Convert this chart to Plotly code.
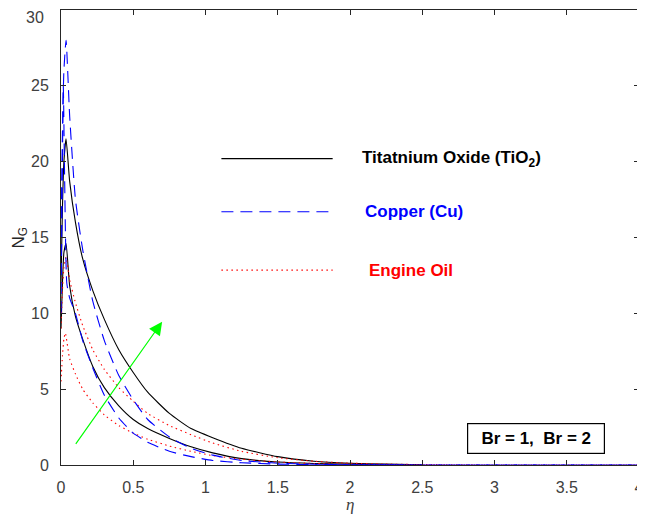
import plotly.graph_objects as go

# eta vs N_G, two curves (Br = 1, Br = 2) for each fluid
x_tio2_br2 = [0, 0.01, 0.02, 0.035, 0.06, 0.1, 0.15, 0.22, 0.3, 0.4, 0.5, 0.6, 0.75, 0.9, 1.05, 1.25, 1.5, 1.75, 2.0, 2.25, 2.5]
y_tio2_br2 = [12, 17, 20, 21.5, 18.7, 16.0, 13.6, 11.5, 9.6, 7.6, 6.1, 4.8, 3.4, 2.4, 1.8, 1.1, 0.55, 0.25, 0.12, 0.06, 0.02]

x_tio2_br1 = [0, 0.01, 0.02, 0.035, 0.06, 0.1, 0.15, 0.22, 0.3, 0.4, 0.5, 0.6, 0.75, 0.9, 1.05, 1.25, 1.5, 1.75, 2.0, 2.25, 2.5]
y_tio2_br1 = [9, 12, 14, 14.6, 11.8, 9.8, 8.3, 6.5, 5.1, 3.9, 3.0, 2.4, 1.75, 1.2, 0.8, 0.42, 0.2, 0.1, 0.05, 0.02, 0.01]

x_cu_br2 = [0, 0.01, 0.02, 0.035, 0.06, 0.1, 0.15, 0.22, 0.3, 0.4, 0.5, 0.6, 0.75, 0.9, 1.05, 1.25, 1.5, 1.75, 2.0, 2.5, 3.0, 4.0]
y_cu_br2 = [15, 22, 26, 28, 23, 17.5, 14.2, 10.8, 8.2, 5.9, 4.3, 3.0, 1.85, 1.1, 0.65, 0.3, 0.12, 0.05, 0.02, 0, 0, 0]

x_cu_br1 = [0, 0.008, 0.016, 0.025, 0.04, 0.06, 0.1, 0.15, 0.22, 0.3, 0.4, 0.5, 0.6, 0.75, 0.9, 1.05, 1.25, 1.5, 1.75, 2.0, 3.0, 4.0]
y_cu_br1 = [10, 18, 25, 19, 12, 11, 10.0, 8.2, 6.4, 4.6, 3.1, 2.1, 1.5, 0.9, 0.55, 0.3, 0.15, 0.06, 0.02, 0.01, 0, 0]

x_oil_br2 = [0, 0.01, 0.02, 0.035, 0.06, 0.1, 0.15, 0.22, 0.3, 0.4, 0.5, 0.6, 0.75, 0.9, 1.05, 1.25, 1.5, 1.75, 2.0, 2.25, 2.5, 3.0, 4.0]
y_oil_br2 = [9, 11.5, 13, 13.7, 12.2, 10.7, 9.2, 7.6, 6.3, 5.1, 4.2, 3.4, 2.6, 2.0, 1.45, 0.9, 0.48, 0.25, 0.12, 0.06, 0.03, 0, 0]

x_oil_br1 = [0, 0.01, 0.02, 0.03, 0.06, 0.1, 0.15, 0.22, 0.3, 0.4, 0.5, 0.6, 0.75, 0.9, 1.05, 1.25, 1.5, 1.75, 2.0, 2.5, 3.0, 4.0]
y_oil_br1 = [5.5, 7.2, 8.3, 8.7, 7.0, 6.0, 5.0, 4.1, 3.3, 2.6, 2.1, 1.7, 1.25, 0.9, 0.62, 0.38, 0.2, 0.1, 0.05, 0.01, 0, 0]

x_ticks = [0, 0.5, 1, 1.5, 2, 2.5, 3, 3.5, 4]
x_tick_text = ['0', '0.5', '1', '1.5', '2', '2.5', '3', '3.5', '4']
y_ticks = [0, 5, 10, 15, 20, 25, 30]
y_tick_text = ['0', '5', '10', '15', '20', '25', '']   # '30' is drawn as an annotation below

BLACK = '#000000'
BLUE = '#0000ff'
RED = '#ff0000'
DASH = '12px,7px'
DOT = '1.5px,3.5px'
FONT = 'Liberation Sans, Arial'
TICK_COLOR = '#404040'

fig = go.Figure()

curves = [
    (x_tio2_br1, y_tio2_br1, BLACK, 'solid'),
    (x_tio2_br2, y_tio2_br2, BLACK, 'solid'),
    (x_oil_br1, y_oil_br1, RED, DOT),
    (x_oil_br2, y_oil_br2, RED, DOT),
    (x_cu_br1, y_cu_br1, BLUE, DASH),
    (x_cu_br2, y_cu_br2, BLUE, DASH),
]
for xs, ys, col, dash in curves:
    fig.add_trace(go.Scatter(x=xs, y=ys, mode='lines',
                             line=dict(color=col, width=1.1, dash=dash, shape='spline', smoothing=0.5),
                             showlegend=False))

# hand-made legend in the middle of the axes
legend_rows = [
    ('Titatnium Oxide (TiO<sub>2</sub>)', BLACK, 'solid', 20.2, 2.07),
    ('Copper (Cu)', BLUE, DASH, 16.7, 2.09),
    ('Engine Oil', RED, DOT, 12.85, 2.12),
]
for label, col, dash, yy, xt in legend_rows:
    fig.add_shape(type='line', x0=1.11, x1=1.88, y0=yy, y1=yy, xref='x', yref='y',
                  line=dict(color=col, width=1.1, dash=dash))
    fig.add_annotation(x=xt, y=yy, xref='x', yref='y', text='<b>' + label + '</b>',
                       showarrow=False, xanchor='left', yanchor='middle',
                       font=dict(family=FONT, size=17, color=col))

# Br box
fig.add_annotation(x=3.287, y=1.75, xref='x', yref='y', text='<b>Br = 1,  Br = 2</b>',
                   showarrow=False, xanchor='center', yanchor='middle', align='center',
                   width=126, height=19,
                   font=dict(family=FONT, size=17, color='#000000'),
                   bordercolor='#000000', borderwidth=1.2, borderpad=5, bgcolor='white')

# green arrow
fig.add_annotation(x=0.70, y=9.45, ax=0.095, ay=1.3, xref='x', yref='y', axref='x', ayref='y',
                   text='', showarrow=True, arrowhead=2, arrowsize=2.2, arrowwidth=1.2,
                   arrowcolor='#00ff00')

# axis titles placed by hand
fig.add_annotation(x=-42 / 578, y=0.5, xref='paper', yref='paper', text='N<sub>G</sub>',
                   showarrow=False, textangle=-90, xanchor='center', yanchor='middle',
                   font=dict(family=FONT, size=17, color='#262626'))
fig.add_annotation(x=0.5, y=-40 / 455, xref='paper', yref='paper', text='<i>η</i>',
                   showarrow=False, xanchor='center', yanchor='middle',
                   font=dict(family='Liberation Serif, Times New Roman', size=17, color=TICK_COLOR))

# top y tick label, nudged down a little so the page edge does not swallow it
fig.add_annotation(x=0, y=1, xref='paper', yref='paper', text='30', showarrow=False,
                   xanchor='right', yanchor='middle', xshift=-15, yshift=-7,
                   font=dict(family=FONT, size=16, color=TICK_COLOR))

axis_common = dict(showline=True, linecolor='#262626', linewidth=1, mirror='ticks',
                   ticks='inside', ticklen=5, tickcolor='#262626', showgrid=False, zeroline=False,
                   automargin=False, ticklabelstandoff=8,
                   tickfont=dict(family=FONT, size=16, color=TICK_COLOR))

fig.update_xaxes(range=[0, 4], tickvals=x_ticks, ticktext=x_tick_text, **axis_common)
fig.update_yaxes(range=[0, 30], tickvals=y_ticks, ticktext=y_tick_text, **axis_common)

# the page body adds an 8px margin, so the figure is sized to fit inside it
fig.update_layout(width=637, height=514, margin=dict(l=53, r=6, t=2, b=57),
                  plot_bgcolor='white', paper_bgcolor='white')

fig.write_html("out.html")
